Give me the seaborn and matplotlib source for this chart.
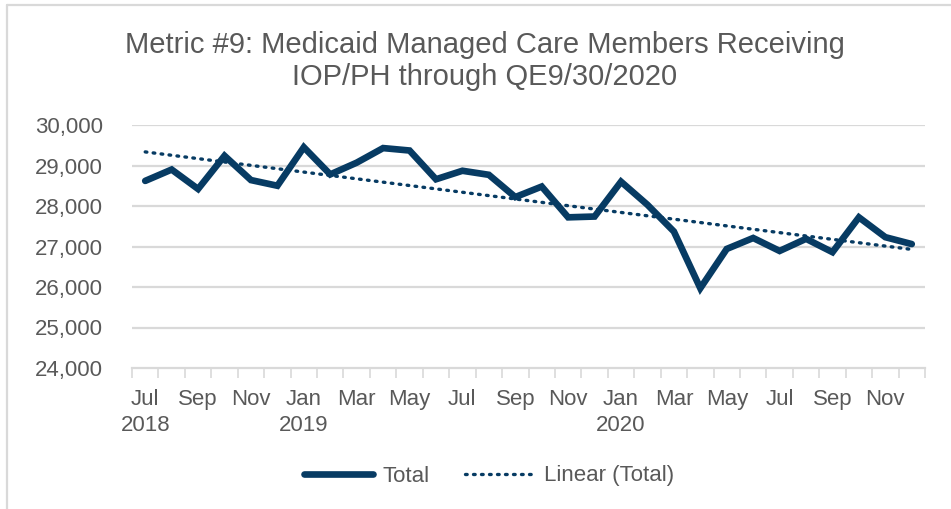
import numpy as np
import pandas as pd
import matplotlib
matplotlib.use("Agg")
import matplotlib.pyplot as plt
import seaborn as sns
from matplotlib.lines import Line2D

months = ["Jul", "Aug", "Sep", "Oct", "Nov", "Dec",
          "Jan", "Feb", "Mar", "Apr", "May", "Jun", "Jul", "Aug", "Sep", "Oct", "Nov", "Dec",
          "Jan", "Feb", "Mar", "Apr", "May", "Jun", "Jul", "Aug", "Sep", "Oct", "Nov", "Dec"]
years = [2018] * 6 + [2019] * 12 + [2020] * 12
total = [28620, 28900, 28420, 29240, 28640, 28500,
         29450, 28780, 29070, 29430, 29370, 28660, 28870, 28770, 28220, 28480, 27720, 27740,
         28600, 28030, 27370, 25970, 26940, 27210, 26890, 27190, 26860, 27720, 27230, 27060]

df = pd.DataFrame({"idx": np.arange(len(total)), "Total": total})
coef = np.polyfit(df["idx"], df["Total"], 1)
df["Linear (Total)"] = np.polyval(coef, df["idx"])

NAVY = "#073b63"
TXT = "#595959"
GRID = "#d9d9d9"
DOTS = (0, (0.5, 1.9))

sns.set_theme(style="white")
plt.rcParams["font.family"] = ["Liberation Sans", "DejaVu Sans"]

fig = plt.figure(figsize=(9.51, 5.09), dpi=100)
ax = fig.add_axes([132 / 951, 1 - 368 / 509, (925 - 132) / 951, (368 - 125) / 509])

sns.lineplot(data=df, x="idx", y="Total", ax=ax, color=NAVY, lw=4.8,
             solid_capstyle="round", solid_joinstyle="miter", legend=False)
sns.lineplot(data=df, x="idx", y="Linear (Total)", ax=ax, color=NAVY, lw=2.4,
             linestyle=DOTS, dash_capstyle="round", legend=False)

ax.set_xlim(-0.5, len(total) - 0.5)
ax.set_ylim(24000, 30000)
ax.set_yticks(np.arange(24000, 30001, 1000))
ax.set_yticklabels([f"{v:,}" for v in range(24000, 30001, 1000)])
for v in range(25000, 30001, 1000):
    ax.axhline(v, color=GRID, lw=1.6, zorder=0)

major = list(range(0, len(total), 2))
labels = []
for i in major:
    lab = months[i]
    if i == 0 or (months[i] == "Jan"):
        lab += "\n" + str(years[i])
    labels.append(lab)
ax.set_xticks(major)
ax.set_xticklabels(labels, ha="center", va="top", linespacing=1.3)
ax.set_xticks(np.arange(-0.5, len(total), 1), minor=True)
ax.tick_params(axis="x", which="major", length=0, pad=15, labelsize=16, colors=TXT)
ax.tick_params(axis="x", which="minor", length=7, width=1.2, color=GRID, bottom=True)
ax.tick_params(axis="y", length=0, pad=21, labelsize=16, colors=TXT)
ax.set_xlabel("")
ax.set_ylabel("")
for s in ["top", "right", "left"]:
    ax.spines[s].set_visible(False)
ax.spines["bottom"].set_color(GRID)
ax.spines["bottom"].set_linewidth(1.6)

fig.text(485 / 951, 1 - 61 / 509, "Metric #9: Medicaid Managed Care Members Receiving\nIOP/PH through QE9/30/2020",
         ha="center", va="center", fontsize=21, color=TXT, linespacing=1.15)

handles = [Line2D([], [], color=NAVY, lw=4.8, solid_capstyle="round"),
           Line2D([], [], color=NAVY, lw=2.4, linestyle=DOTS, dash_capstyle="round")]
fig.legend(handles, ["Total", "Linear (Total)"], loc="center", bbox_to_anchor=(489 / 951, 1 - 476 / 509),
           ncol=2, frameon=False, fontsize=16, labelcolor=TXT, handlelength=3.1,
           handletextpad=0.45, columnspacing=1.6)

# chart border (top and left visible)
fig.add_artist(Line2D([7 / 951, 7 / 951], [0, 1 - 5 / 509], transform=fig.transFigure, color=GRID, lw=1.6))
fig.add_artist(Line2D([7 / 951, 1], [1 - 5 / 509, 1 - 5 / 509], transform=fig.transFigure, color=GRID, lw=1.6))

fig.savefig("out.png", dpi=100, facecolor="white")
